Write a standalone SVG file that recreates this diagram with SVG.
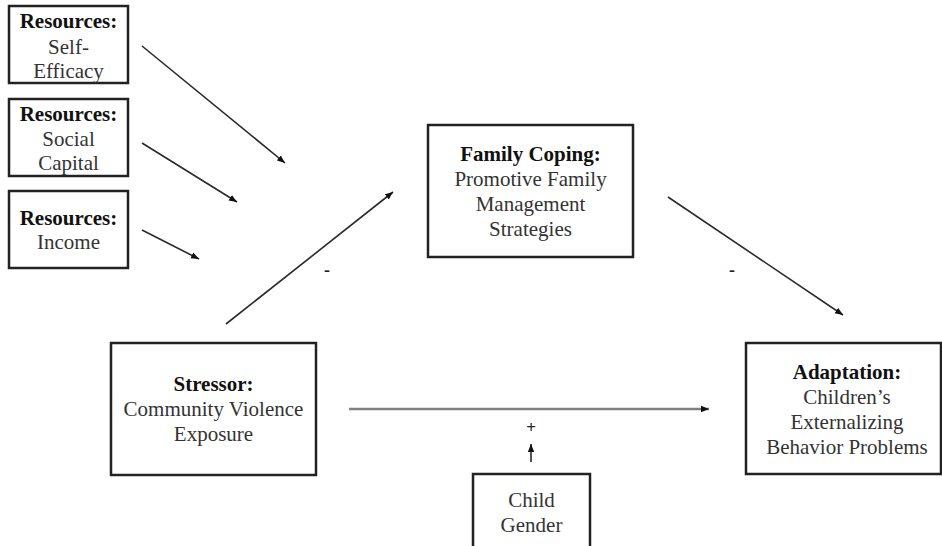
<svg xmlns="http://www.w3.org/2000/svg" width="942" height="546" viewBox="0 0 942 546">
<style>
.box{fill:#fff;stroke:#222;stroke-width:2.5}
.t{font-family:"Liberation Serif","Times New Roman",serif;font-size:21px;fill:#333;text-anchor:middle}
.b{font-weight:bold;fill:#111}
.c{stroke:#2a2a2a;stroke-width:1.6;fill:none;marker-end:url(#ah)}
.g{stroke:#808080;stroke-width:2.6;fill:none;marker-end:url(#ah)}
.s{font-family:"Liberation Serif","Times New Roman",serif;fill:#222;text-anchor:middle;font-weight:bold}
</style>
<defs>
<marker id="ah" markerUnits="userSpaceOnUse" markerWidth="9" markerHeight="8" refX="8" refY="4" orient="auto">
<path d="M0,0.8 L8,4 L0,7.2 Z" fill="#111"/>
</marker>
</defs>
<rect width="942" height="546" fill="#fff"/>
<g id="connectors">
<line class="c" x1="142" y1="46" x2="285" y2="163"/>
<line class="c" x1="142" y1="143" x2="237" y2="202"/>
<line class="c" x1="142" y1="230" x2="199" y2="259"/>
<line class="c" x1="226" y1="324" x2="393" y2="192"/>
<line class="c" x1="668" y1="197" x2="843" y2="315"/>
<line class="g" x1="349" y1="409" x2="709" y2="409"/>
<line class="c" x1="531" y1="462" x2="531" y2="444"/>
<text class="s" x="327" y="276" font-size="18">-</text>
<text class="s" x="732" y="276" font-size="18">-</text>
<text class="s" x="531" y="433" font-size="17">+</text>
</g>
<g id="res-self-efficacy">
<rect class="box" x="9" y="6" width="119" height="77"/>
<text class="t b" x="68.5" y="28">Resources:</text>
<text class="t" x="68.5" y="54">Self-</text>
<text class="t" x="68.5" y="78">Efficacy</text>
</g>
<g id="res-social-capital">
<rect class="box" x="9" y="99" width="119" height="77"/>
<text class="t b" x="68.5" y="121">Resources:</text>
<text class="t" x="68.5" y="146">Social</text>
<text class="t" x="68.5" y="170">Capital</text>
</g>
<g id="res-income">
<rect class="box" x="9" y="191" width="119" height="77"/>
<text class="t b" x="68.5" y="225">Resources:</text>
<text class="t" x="68.5" y="249">Income</text>
</g>
<g id="family-coping">
<rect class="box" x="428" y="125" width="205" height="132"/>
<text class="t b" x="530.5" y="161">Family Coping:</text>
<text class="t" x="530.5" y="186">Promotive Family</text>
<text class="t" x="530.5" y="211">Management</text>
<text class="t" x="530.5" y="236">Strategies</text>
</g>
<g id="stressor">
<rect class="box" x="111" y="343" width="205" height="132"/>
<text class="t b" x="213.5" y="391">Stressor:</text>
<text class="t" x="213.5" y="416">Community Violence</text>
<text class="t" x="213.5" y="441">Exposure</text>
</g>
<g id="adaptation">
<rect class="box" x="746" y="343" width="195" height="131"/>
<text class="t b" x="847" y="379">Adaptation:</text>
<text class="t" x="847" y="404">Children’s</text>
<text class="t" x="847" y="429">Externalizing</text>
<text class="t" x="847" y="454">Behavior Problems</text>
</g>
<g id="child-gender">
<rect class="box" x="473" y="474" width="117" height="90"/>
<text class="t" x="531.5" y="507">Child</text>
<text class="t" x="531.5" y="532">Gender</text>
</g>
</svg>
